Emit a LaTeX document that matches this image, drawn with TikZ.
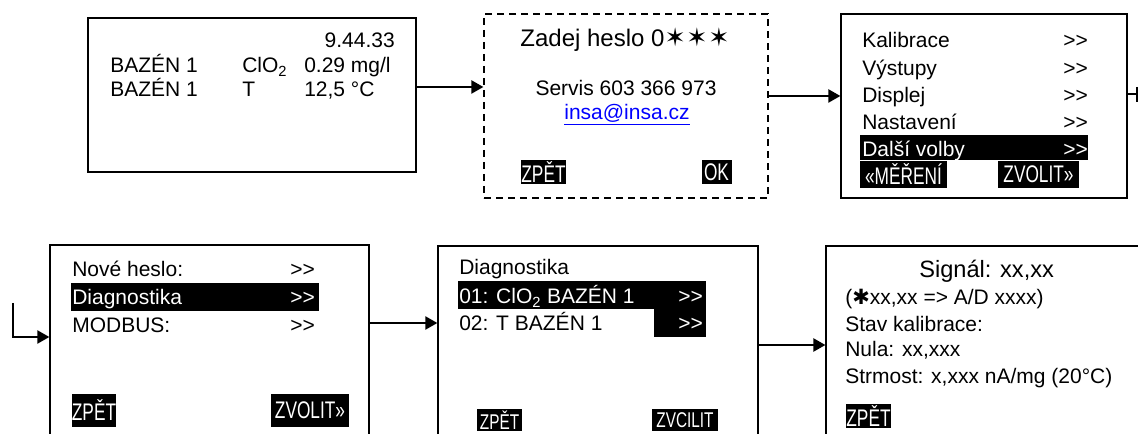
\documentclass[tikz,border=0pt]{standalone}
\usepackage{fontspec}
\setmainfont{Liberation Sans}
\newfontfamily\btnfont[FakeStretch=0.72]{Liberation Sans}
\newfontfamily\symfont{DejaVu Sans}
\usetikzlibrary{arrows.meta}
\newdimen\pix \pix=0.75pt
\newcommand\more{>{}>}

\begin{document}
\begin{tikzpicture}[
      x=0.75pt,y=-0.75pt,
      screen/.style={draw,line width=1pt,inner sep=0pt},
      txt/.style={anchor=base west,inner sep=0pt,font=\fontsize{15.75}{18}\selectfont},
      head/.style={anchor=base,inner sep=0pt,font=\fontsize{18}{21}\selectfont},
      bar/.style={fill=black,inner sep=0pt},
      btn/.style={fill=black,text=white,inner sep=0pt,font=\btnfont\fontsize{18}{20}\selectfont},
      link/.style={line width=1pt,-{Triangle[length=9pt,width=10pt]}}
    ]
      \useasboundingbox (0,0) rectangle (1138,434);
      \clip (0,0) rectangle (1138,434);

      % screens
      \node[screen,minimum width=328\pix,minimum height=154\pix] (meas) at (252,95) {};
      \node[screen,dash pattern=on 5.5pt off 3.5pt,minimum width=284\pix,minimum height=184\pix] (pass) at (626,106) {};
      \node[screen,minimum width=286\pix,minimum height=184\pix] (menu) at (984,106) {};
      \node[screen,minimum width=319\pix,minimum height=215\pix] (more) at (209.5,352.5) {};
      \node[screen,minimum width=320\pix,minimum height=214\pix] (diag) at (598,353) {};
      \node[screen,minimum width=334\pix,minimum height=214\pix] (sig) at (993,353) {};

      % measuring screen
      \node[txt,anchor=base east] (clock) at (395,48) {9.44.33};
      \node[txt] (pool1) at (110,73) {BAZÉN 1};
      \node[txt] (qty1) at (242,73) {ClO\textsubscript{2}};
      \node[txt] (val1) at (304,73) {0.29 mg/l};
      \node[txt] (pool2) at (110,97) {BAZÉN 1};
      \node[txt] (qty2) at (242,97) {T};
      \node[txt] (val2) at (304,97) {12,5 °C};

      % password screen
      \node[head] (code) at (625,47) {Zadej heslo 0{\symfont\fontsize{19}{20}\selectfont ✶\kern0.5pt✶\kern0.5pt✶}};
      \node[txt,anchor=base] (phone) at (626,96) {Servis 603 366 973};
      \node[txt,anchor=base,text=blue] (mail) at (627,120) {\underline{insa@insa.cz}};
      \node[btn,minimum width=45\pix,minimum height=24\pix] (backA) at (543.5,172) {ZPĚT};
      \node[btn,minimum width=30\pix,minimum height=24\pix] (okA) at (716.5,172) {OK};

      % main menu
      \node[bar,minimum width=228\pix,minimum height=25\pix] (selA) at (974,147.5) {};
      \node[txt] (calib) at (862,48) {Kalibrace};
      \node[txt] (outs) at (862,76) {Výstupy};
      \node[txt] (disp) at (862,103) {Displej};
      \node[txt] (sett) at (862,130) {Nastavení};
      \node[txt,text=white] (next) at (862,157) {Další volby};
      \foreach \row/\yy in {calib/48,outs/76,disp/103,sett/130}
        \node[txt] (go-\row) at (1063,\yy) {\more};
      \node[txt,text=white] (go-next) at (1063,157) {\more};
      \node[btn,minimum width=87\pix,minimum height=27\pix] (measB) at (903.5,174.5) {«MĚŘENÍ};
      \node[btn,minimum width=81\pix,minimum height=27\pix] (pickB) at (1038.5,174.5) {ZVOLIT»};

      % further options
      \node[bar,minimum width=248\pix,minimum height=28\pix] (selB) at (195,297) {};
      \node[txt] (newpw) at (72,277) {Nové heslo:};
      \node[txt,text=white] (dgn) at (72,305) {Diagnostika};
      \node[txt] (mbus) at (72,333) {MODBUS:};
      \node[txt] (go-newpw) at (290,277) {\more};
      \node[txt,text=white] (go-dgn) at (290,305) {\more};
      \node[txt] (go-mbus) at (290,333) {\more};
      \node[btn,minimum width=44\pix,minimum height=33\pix] (backC) at (94,410.5) {ZPĚT};
      \node[btn,minimum width=78\pix,minimum height=33\pix] (pickC) at (310,410.5) {ZVOLIT»};

      % diagnostics
      \node[bar,minimum width=248\pix,minimum height=28\pix] (selC) at (582,295) {};
      \node[bar,minimum width=52\pix,minimum height=28\pix] (selD) at (680,323) {};
      \node[txt] (dtitle) at (459,275) {Diagnostika};
      \node[txt,text=white] (ch1) at (459,304) {01: ClO\textsubscript{2} BAZÉN 1};
      \node[txt] (ch2) at (459,331) {02: T BAZÉN 1};
      \node[txt,text=white] (go-ch1) at (678,304) {\more};
      \node[txt,text=white] (go-ch2) at (678,331) {\more};
      \node[btn,font=\btnfont\fontsize{16}{17}\selectfont,minimum width=45\pix,minimum height=22\pix] (backD) at (499.5,420) {ZPĚT};
      \node[btn,font=\btnfont\fontsize{16}{17}\selectfont,minimum width=66\pix,minimum height=22\pix] (pickD) at (685,420) {ZVCILIT};

      % signal detail
      \node[head,anchor=base west,font=\fontsize{17.7}{20}\selectfont] (signal) at (919,278) {Signál: xx,xx};
      \node[txt] (adc) at (845,305) {({\symfont ✱}xx,xx => A/D xxxx)};
      \node[txt] (state) at (845,332) {Stav kalibrace:};
      \node[txt] (zero) at (845,357) {Nula: xx,xxx};
      \node[txt] (slope) at (845,383) {Strmost: x,xxx nA/mg (20°C)};
      \node[btn,minimum width=45\pix,minimum height=24\pix] (backE) at (868.5,416) {ZPĚT};

      % connectors
      \coordinate (r1) at (450,87);
      \coordinate (r2) at (800,96);
      \coordinate (r3) at (1137,94);
      \coordinate (r4) at (13,303);
      \coordinate (r5) at (400,323);
      \coordinate (r6) at (790,345);
      \draw[link] (meas.east |- r1) -- (pass.west |- r1);
      \draw[link] (pass.east |- r2) -- (menu.west |- r2);
      \draw[line width=1pt] (menu.east |- r3) -- (r3);
      \draw[line width=1pt] ([yshift=7\pix]r3) -- ([yshift=-8\pix]r3);
      \draw[link] (r4) |- (more.west |- 0,337);
      \draw[link] (more.east |- r5) -- (diag.west |- r5);
      \draw[link] (diag.east |- r6) -- (sig.west |- r6);
    \end{tikzpicture}
\end{document}
